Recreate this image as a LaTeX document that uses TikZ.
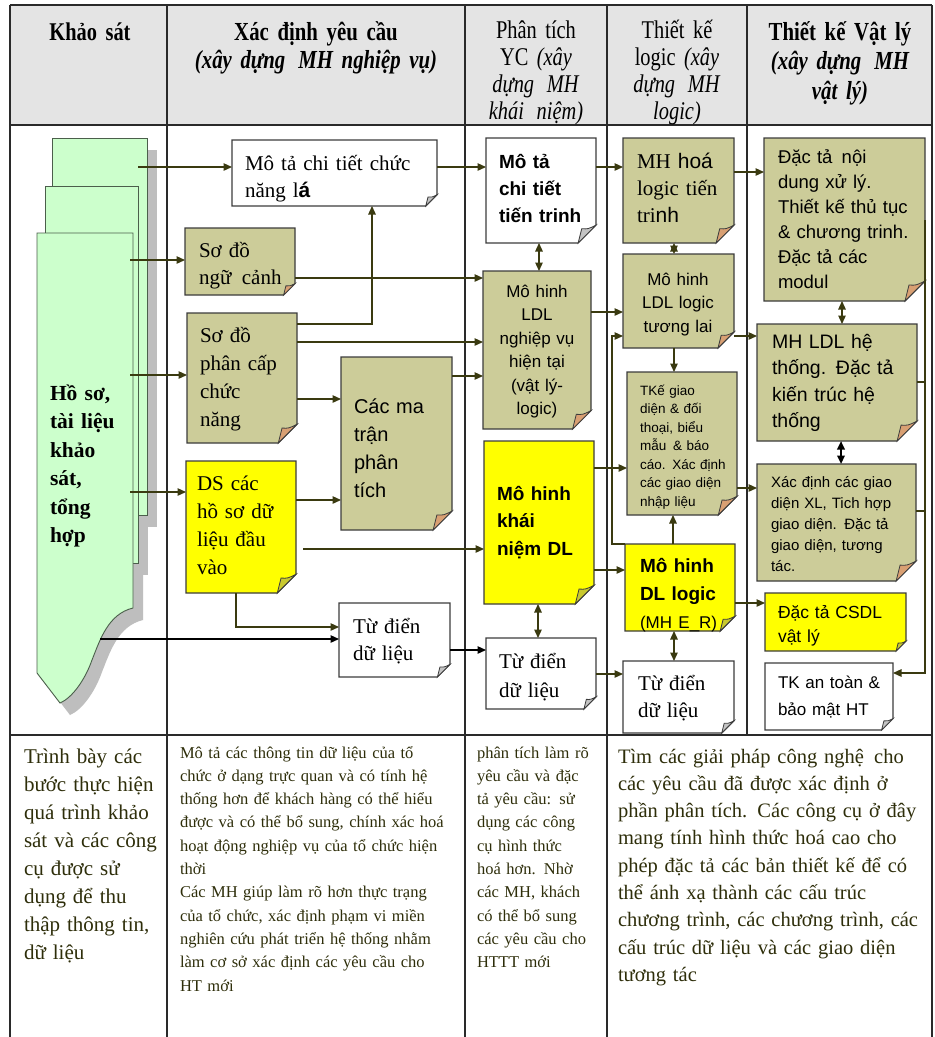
\documentclass[tikz,border=0pt]{standalone}
\usepackage{fontspec}
\setmainfont{Liberation Serif}
\setsansfont{Liberation Sans}
\newfontfamily\headfont[FakeStretch=0.8]{Liberation Serif}
\usetikzlibrary{arrows.meta,fit}

\definecolor{tanbox}{HTML}{CCCC99}
\definecolor{tanfold}{HTML}{D9A073}
\definecolor{yelbox}{HTML}{FFFF00}
\definecolor{yelfold}{HTML}{C9C92E}
\definecolor{whtfold}{HTML}{C4C4C4}
\definecolor{boxline}{HTML}{3C3C3C}
\definecolor{wirecol}{HTML}{3A3A10}
\definecolor{pagefill}{HTML}{CCFFCC}
\definecolor{pageline}{HTML}{4B5F4B}
\definecolor{pageshade}{HTML}{BEBEBE}
\definecolor{headfill}{HTML}{E4E4E4}
\definecolor{ruleline}{HTML}{2A2A2A}
\definecolor{notetext}{HTML}{2E2E0A}

\tikzset{
  x=1pt, y=-1pt,
  >={Triangle[length=8.5pt,width=7.5pt]},
  boxedge/.style={draw=boxline, line width=1.1pt},
  foldedge/.style={draw=boxline, line width=0.8pt},
  wire/.style={draw=wirecol, line width=1.3pt, ->},
  wiretwo/.style={draw=wirecol, line width=1.3pt, <->},
  blackwire/.style={draw=black, line width=1.3pt, ->},
  page/.style={draw=pageline, line width=0.9pt, fill=pagefill},
  tablerule/.style={draw=ruleline, line width=1.4pt},
  txt/.style={inner sep=0pt, outer sep=0pt, anchor=base west, align=left, text=black},
  ctxt/.style={inner sep=0pt, outer sep=0pt, anchor=base, align=center, text=black},
  bodytxt/.style={inner sep=0pt, outer sep=0pt, anchor=base west, align=left, text=notetext},
  head/.style={inner sep=0pt, outer sep=0pt, anchor=base, align=center, text=black,
    text width=180pt, font=\headfont\fontsize{25.5}{27}\selectfont},
}

% folded-corner note: name, x1, y1, x2, y2, fill, fold colour
\newcommand\notebox[7]{%
  \pgfmathsetmacro\nbf{min(20,0.17*min(#4-#2,#5-#3))}%
  \draw[boxedge,fill=#6] (#2,#3) -- (#4,#3) -- (#4,#5-\nbf) -- (#4-\nbf,#5) -- (#2,#5) -- cycle;
  \draw[foldedge,fill=#7] (#4-\nbf,#5) -- (#4-0.8*\nbf,#5-0.8*\nbf)
     .. controls (#4-0.45*\nbf,#5-0.78*\nbf) .. (#4,#5-\nbf) -- cycle;
  \node[fit={(#2,#3) (#4,#5)}, inner sep=0pt, outer sep=0pt] (#1) {};
}

\begin{document}
\begin{tikzpicture}
\useasboundingbox (0,0) rectangle (935,1037);
\fill[white] (0,0) rectangle (935,1037);

% table frame
\fill[headfill] (10,5) rectangle (932,125);
\draw[tablerule] (10,5) -- (932,5);
\draw[tablerule] (10,125) -- (932,125);
\draw[tablerule] (10,735) -- (932,735);
\draw[tablerule] (10,5) -- (10,1037);
\draw[tablerule] (167,5) -- (167,1037);
\draw[tablerule] (465,5) -- (465,1037);
\draw[tablerule] (607,5) -- (607,1037);
\draw[tablerule] (747,5) -- (747,735);
\draw[tablerule] (932,5) -- (932,1037);

% column headings
\node[head] (h1) at (90,40) {\bfseries Khảo sát};
\node[head, text width=290pt, font=\headfont\fontsize{26}{28.5}\selectfont] (h2) at (316,40) {\bfseries Xác định yêu cầu\\\bfseries\itshape (xây dựng\enspace MH nghiệp vụ)};
\node[head, text width=140pt] (h3) at (536,38) {Phân tích\\YC \textit{(xây}\\\textit{dựng\enspace MH}\\\textit{khái\enspace niệm)}};
\node[head, text width=140pt] (h4) at (677,38) {Thiết kế\\logic \textit{(xây}\\\textit{dựng\enspace MH}\\\textit{logic)}};
\node[head, font=\headfont\fontsize{26}{29.5}\selectfont] (h5) at (840,40) {\bfseries Thiết kế Vật lý\\\bfseries\itshape (xây dựng\enspace MH\\\bfseries\itshape vật lý)};

% stack of survey documents
\fill[pageshade] (62,150) rectangle (157,527);
\fill[pageshade] (55,198) rectangle (148,575);
\fill[pageshade] (47,245) -- (143,245) -- (143,620)
   .. controls (118,626) and (110,652) .. (102,672)
   .. controls (95,692) and (82,710) .. (70,715) -- (47,685) -- cycle;
\draw[page] (52,138) rectangle (147,515);
\draw[page] (45,186) rectangle (138,563);
\draw[page] (37,233) -- (133,233) -- (133,608)
   .. controls (108,614) and (100,640) .. (92,660)
   .. controls (85,680) and (72,698) .. (60,703) -- (37,673) -- cycle;
\node[txt, text width=90pt, font=\bfseries\fontsize{21.5}{28.5}\selectfont] (hs) at (50,400)
  {Hồ sơ,\\tài liệu\\khảo\\sát,\\tổng\\hợp};
\coordinate (s1) at (138,167);
\coordinate (s2) at (130,260);
\coordinate (s3) at (130,375);
\coordinate (s4) at (130,492);
\coordinate (s5) at (100,639);
\coordinate (s6) at (303,549);

% requirement column
\notebox{leaf}{232}{140}{437}{206}{white}{whtfold}
\notebox{ctx}{185}{228}{295}{295}{tanbox}{tanfold}
\notebox{fhd}{187}{313}{297}{443}{tanbox}{tanfold}
\notebox{mtx}{341}{357}{452}{530}{tanbox}{tanfold}
\notebox{dsd}{186}{461}{296}{593}{yelbox}{yelfold}
\notebox{dd2}{339}{603}{450}{677}{white}{whtfold}

% analysis column
\notebox{mtt}{486}{138}{596}{243}{white}{whtfold}
\notebox{ldl1}{483}{271}{591}{429}{tanbox}{tanfold}
\notebox{cnd}{484}{441}{594}{604}{yelbox}{yelfold}
\notebox{dd3}{486}{638}{596}{709}{white}{whtfold}

% logical design column
\notebox{hoa}{623}{138}{734}{243}{tanbox}{tanfold}
\notebox{ldl2}{623}{254}{734}{348}{tanbox}{tanfold}
\notebox{tkg}{627}{372}{737}{515}{tanbox}{tanfold}
\notebox{dlg}{625}{544}{735}{631}{yelbox}{yelfold}
\notebox{dd4}{623}{661}{734}{733}{white}{whtfold}

% physical design column
\notebox{dtx}{764}{138}{925}{301}{tanbox}{tanfold}
\notebox{ldl3}{757}{324}{917}{441}{tanbox}{tanfold}
\notebox{xgd}{757}{464}{916}{581}{tanbox}{tanfold}
\notebox{csdl}{765}{593}{906}{651}{yelbox}{yelfold}
\notebox{tkat}{765}{663}{893}{730}{white}{whtfold}

% connectors
\draw[wire] (s1) -- (leaf.west |- s1);
\draw[wire] (s2) -- (ctx.west |- s2);
\draw[wire] (s3) -- (fhd.west |- s3);
\draw[wire] (s4) -- (dsd.west |- s4);
\draw[blackwire] (s5) -- (dd2.west |- s5);
\draw[wire] (ctx.east |- 0,278) -- (ldl1.west |- 0,278);
\draw[wire] (fhd.east |- 0,324) -| (leaf.south -| 372,0);
\draw[wire] (fhd.east |- 0,342) -- (ldl1.west |- 0,342);
\draw[wire] (fhd.east |- 0,399) -- (mtx.west |- 0,399);
\draw[wire] (mtx.east |- 0,376) -- (ldl1.west |- 0,376);
\draw[wire] (dsd.east |- 0,500) -- (mtx.west |- 0,500);
\draw[wire] (s6) -- (cnd.west |- s6);
\draw[wire] (dsd.south -| 236,0) |- (dd2.west |- 0,627);
\draw[wire] (leaf.east |- 0,167) -- (mtt.west |- 0,167);
\draw[wiretwo] (mtt.south -| 539,0) -- (ldl1.north -| 539,0);
\draw[wire] (mtt.east |- 0,167) -- (hoa.west |- 0,167);
\draw[wire] (ldl1.east |- 0,312) -- (ldl2.west |- 0,312);
\draw[wiretwo] (hoa.south -| 674,0) -- (ldl2.north -| 674,0);
\draw[wire] (hoa.east |- 0,172) -- (dtx.west |- 0,172);
\draw[wire] (ldl2.east |- 0,336) -- (ldl3.west |- 0,336);
\draw[wire] (ldl2.south -| 674,0) -- (tkg.north -| 674,0);
\draw[wire] (dlg.north west) -- ++(-13,0) |- (ldl2.west |- 0,336);
\draw[wire] (cnd.east |- 0,468) -- (tkg.west |- 0,468);
\draw[wire] (cnd.east |- 0,570) -- (dlg.west |- 0,570);
\draw[wire] (dlg.north -| 673,0) -- (tkg.south -| 673,0);
\draw[wire] (tkg.east |- 0,488) -- (xgd.west |- 0,488);
\draw[draw=black, line width=2.2pt, <->] (ldl3.south -| 841,0) -- (xgd.north -| 841,0);
\draw[wiretwo] (dtx.south -| 842,0) -- (ldl3.north -| 842,0);
\draw[wire] (dlg.east |- 0,603) -- (csdl.west |- 0,603);
\draw[wiretwo] (cnd.south -| 538,0) -- (dd3.north -| 538,0);
\draw[wiretwo] (dlg.south -| 674,0) -- (dd4.north -| 674,0);
\draw[blackwire] (dd2.east |- 0,650) -- (dd3.west |- 0,650);
\draw[wire] (dd3.east |- 0,674) -- (dd4.west |- 0,674);
\draw[wire] (dtx.east |- 0,220) |- (tkat.east |- 0,673);
\draw[draw=wirecol, line width=1.3pt] (ldl3.east |- 0,382) -- (dtx.east |- 0,382);
\draw[draw=wirecol, line width=1.3pt] (xgd.east |- 0,511) -- (dtx.east |- 0,511);

% note texts
\node[txt, text width=190pt, font=\fontsize{21}{27}\selectfont] (leaf-t) at (245,170)
  {Mô tả chi tiết chức\\năng l{\sffamily\bfseries á}};
\node[txt, text width=100pt, font=\fontsize{21}{27}\selectfont] (ctx-t) at (199,257) {Sơ đồ\\ngữ\enspace cảnh};
\node[txt, text width=100pt, font=\fontsize{21}{28}\selectfont] (fhd-t) at (200,342) {Sơ đồ\\phân cấp\\chức\\năng};
\node[txt, text width=100pt, font=\sffamily\fontsize{20}{28}\selectfont] (mtx-t) at (354,413) {Các ma\\trận\\phân\\tích};
\node[txt, text width=100pt, font=\fontsize{21}{28}\selectfont] (dsd-t) at (197,490) {DS các\\hồ sơ dữ\\liệu đầu\\vào};
\node[txt, text width=100pt, font=\fontsize{21}{27}\selectfont] (dd2-t) at (353,633) {Từ điển\\dữ liệu};
\node[txt, text width=100pt, font=\sffamily\bfseries\fontsize{19}{27}\selectfont] (mtt-t) at (499,168) {Mô tả\\chi tiết\\tiến trinh};
\node[ctxt, text width=100pt, font=\sffamily\fontsize{17}{23.5}\selectfont] (ldl1-t) at (537,297) {Mô hinh\\LDL\\nghiệp vụ\\hiện tại\\(vật lý-\\logic)};
\node[txt, text width=100pt, font=\sffamily\bfseries\fontsize{19}{27.5}\selectfont] (cnd-t) at (497,500) {Mô hinh\\khái\\niệm DL};
\node[txt, text width=100pt, font=\fontsize{21}{29}\selectfont] (dd3-t) at (499,668) {Từ điển\\dữ liệu};
\node[txt, text width=100pt, font=\fontsize{21}{27}\selectfont] (hoa-t) at (637,168) {MH {\sffamily hoá}\\logic tiến\\tri{\sffamily nh}};
\node[ctxt, text width=100pt, font=\sffamily\fontsize{17}{23.5}\selectfont] (ldl2-t) at (678,285) {Mô hinh\\LDL logic\\tương lai};
\node[txt, text width=100pt, font=\sffamily\fontsize{13.5}{18.5}\selectfont] (tkg-t) at (640,395)
  {TKế giao\\diện \& đối\\thoại, biểu\\mẫu\enspace\& báo\\cáo. Xác định\\các giao diện\\nhập liệu};
\node[txt, text width=100pt, font=\sffamily\bfseries\fontsize{19}{28}\selectfont] (dlg-t) at (640,572)
  {Mô hinh\\DL logic\\{\mdseries\fontsize{17}{28}\selectfont(MH E\_R)}};
\node[txt, text width=100pt, font=\fontsize{21}{27}\selectfont] (dd4-t) at (638,690) {Từ điển\\dữ liệu};
\node[txt, text width=150pt, font=\sffamily\fontsize{18.5}{25}\selectfont] (dtx-t) at (778,163)
  {Đặc tả\enspace nội\\dung xử lý.\\Thiết kế thủ tục\\\& chương trinh.\\Đặc tả các\\modul};
\node[txt, text width=150pt, font=\sffamily\fontsize{19.5}{26.5}\selectfont] (ldl3-t) at (772,348)
  {MH LDL hệ\\thống. Đặc tả\\kiến trúc hệ\\thống};
\node[txt, text width=150pt, font=\sffamily\fontsize{15}{21}\selectfont] (xgd-t) at (771,487)
  {Xác định các giao\\diện XL, Tich hợp\\giao diện. Đặc tả\\giao diện, tương\\tác.};
\node[txt, text width=130pt, font=\sffamily\fontsize{17.5}{24}\selectfont] (csdl-t) at (778,618) {Đặc tả CSDL\\vật lý};
\node[txt, text width=120pt, font=\sffamily\fontsize{17}{27}\selectfont] (tkat-t) at (778,688) {TK an toàn \&\\bảo mật HT};

% explanatory row
\node[bodytxt, text width=145pt, font=\fontsize{21}{28}\selectfont] (b1) at (24,763)
  {Trình bày các\\bước thực hiện\\quá trình khảo\\sát và các công\\cụ được sử\\dụng để thu\\thập thông tin,\\dữ liệu};
\node[bodytxt, text width=300pt, font=\fontsize{16.5}{23.3}\selectfont] (b2) at (180,758)
  {Mô tả các thông tin dữ liệu của tổ\\chức ở dạng trực quan và có tính hệ\\thống hơn để khách hàng có thể hiểu\\được và có thể bổ sung, chính xác hoá\\hoạt động nghiệp vụ của tổ chức hiện\\thời\\Các MH giúp làm rõ hơn thực trạng\\của tổ chức, xác định phạm vi miền\\nghiên cứu phát triển hệ thống nhằm\\làm cơ sở xác định các yêu cầu cho\\HT mới};
\node[bodytxt, text width=140pt, font=\fontsize{16.5}{23.3}\selectfont] (b3) at (477,758)
  {phân tích làm rõ\\yêu cầu và đặc\\tả yêu cầu: sử\\dụng các công\\cụ hình thức\\hoá hơn. Nhờ\\các MH, khách\\có thể bổ sung\\các yêu cầu cho\\HTTT mới};
\node[bodytxt, text width=320pt, font=\fontsize{20.5}{27.3}\selectfont] (b4) at (618,763)
  {Tìm các giải pháp công nghệ\enspace cho\\các yêu cầu đã được xác định ở\\phần phân tích. Các công cụ ở đây\\mang tính hình thức hoá cao cho\\phép đặc tả các bản thiết kế để có\\thể ánh xạ thành các cấu trúc\\chương trình, các chương trình, các\\cấu trúc dữ liệu và các giao diện\\tương tác};
\end{tikzpicture}
\end{document}
